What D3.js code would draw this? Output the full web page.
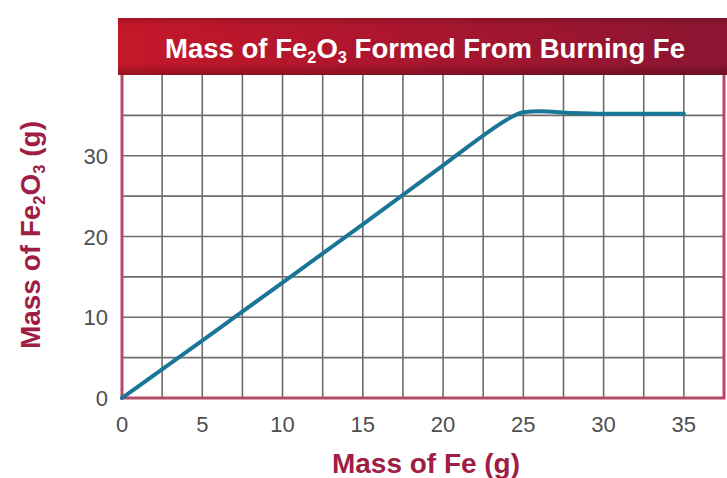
<!DOCTYPE html>
<html>
<head>
<meta charset="utf-8">
<script src="https://cdn.jsdelivr.net/npm/d3@7"></script>
<style>
  body { margin: 0; background: #fff; }
  svg { display: block; }
</style>
</head>
<body>
<div id="app"></div>
<script>
const feMass = [0, 5, 10, 15, 20, 22.5, 24, 25, 26, 28, 30, 35];
const oxideMass = [0, 7.1, 14.3, 21.5, 28.8, 32.5, 34.5, 35.4, 35.5, 35.3, 35.2, 35.2];
const xTicks = [0, 5, 10, 15, 20, 25, 30, 35];
const yTicks = [0, 10, 20, 30];

const width = 727;
const height = 478;
const margin = { top: 75, right: 3, bottom: 80, left: 122 };
const maroon = '#a01d44';
const frameColor = '#b54a66';
const narrow = 'Liberation Sans Narrow, Arial Narrow, sans-serif';

const svg = d3.select('#app').append('svg')
  .attr('width', width)
  .attr('height', height);

const defs = svg.append('defs');
const grad = defs.append('linearGradient').attr('id', 'banner')
  .attr('x1', 0).attr('x2', 1).attr('y1', 0).attr('y2', 0);
grad.append('stop').attr('offset', '0%').attr('stop-color', '#c5172a');
grad.append('stop').attr('offset', '100%').attr('stop-color', '#8c1532');

const shade = defs.append('linearGradient').attr('id', 'bannerShade')
  .attr('x1', 0).attr('x2', 0).attr('y1', 0).attr('y2', 1);
shade.append('stop').attr('offset', '0%').attr('stop-color', '#000').attr('stop-opacity', 0.15);
shade.append('stop').attr('offset', '15%').attr('stop-color', '#000').attr('stop-opacity', 0);
shade.append('stop').attr('offset', '80%').attr('stop-color', '#000').attr('stop-opacity', 0);
shade.append('stop').attr('offset', '100%').attr('stop-color', '#000').attr('stop-opacity', 0.25);

const x = d3.scaleLinear().domain([0, 37.5]).range([margin.left, width - margin.right]);
const y = d3.scaleLinear().domain([0, 40]).range([height - margin.bottom, margin.top]);

// grid
const grid = svg.append('g').attr('stroke', '#6d6d6d').attr('stroke-width', 1.6);
grid.selectAll('line.v').data(d3.range(2.5, 37.5, 2.5)).join('line')
  .attr('x1', d => x(d)).attr('x2', d => x(d))
  .attr('y1', y(40)).attr('y2', y(0));
grid.selectAll('line.h').data(d3.range(5, 40, 5)).join('line')
  .attr('x1', x(0)).attr('x2', x(37.5))
  .attr('y1', d => y(d)).attr('y2', d => y(d));

// frame
svg.append('path')
  .attr('d', `M${x(0)},${y(40)} V${y(0)} H${x(37.5)} V${y(40)}`)
  .attr('fill', 'none')
  .attr('stroke', frameColor)
  .attr('stroke-width', 3);

// banner
svg.append('rect').attr('x', 118).attr('y', 18).attr('width', width - 118).attr('height', 57)
  .attr('fill', 'url(#banner)');
svg.append('rect').attr('x', 118).attr('y', 18).attr('width', width - 118).attr('height', 57)
  .attr('fill', 'url(#bannerShade)');

const title = svg.append('text')
  .attr('x', 425).attr('y', 58)
  .attr('text-anchor', 'middle')
  .attr('fill', '#fff')
  .attr('font-family', narrow)
  .attr('font-weight', 'bold')
  .attr('font-size', 27)
  .attr('textLength', 520)
  .attr('lengthAdjust', 'spacingAndGlyphs');
title.append('tspan').text('Mass of Fe');
title.append('tspan').attr('font-size', 16).attr('dy', 5).text('2');
title.append('tspan').attr('dy', -5).text('O');
title.append('tspan').attr('font-size', 16).attr('dy', 5).text('3');
title.append('tspan').attr('dy', -5).text(' Formed From Burning Fe');

// line
const line = d3.line()
  .x(d => x(d[0]))
  .y(d => y(d[1]))
  .curve(d3.curveMonotoneX);

svg.append('path')
  .datum(d3.zip(feMass, oxideMass))
  .attr('d', line)
  .attr('fill', 'none')
  .attr('stroke', '#1a7697')
  .attr('stroke-width', 4)
  .attr('stroke-linecap', 'round')
  .attr('stroke-linejoin', 'round');

// axes
const tickStyle = sel => sel
  .attr('fill', '#4f4f4f')
  .attr('font-family', narrow)
  .attr('font-size', 22);

svg.append('g').selectAll('text').data(xTicks).join('text')
  .attr('x', d => x(d)).attr('y', 432)
  .attr('text-anchor', 'middle')
  .call(tickStyle)
  .text(d => d);

svg.append('g').selectAll('text').data(yTicks).join('text')
  .attr('x', 108).attr('y', d => y(d) + 8)
  .attr('text-anchor', 'end')
  .call(tickStyle)
  .text(d => d);

svg.append('text')
  .attr('x', 426).attr('y', 473)
  .attr('text-anchor', 'middle')
  .attr('fill', maroon)
  .attr('font-family', narrow)
  .attr('font-weight', 'bold')
  .attr('font-size', 27)
  .attr('textLength', 188)
  .attr('lengthAdjust', 'spacingAndGlyphs')
  .text('Mass of Fe (g)');

const yl = svg.append('text')
  .attr('transform', 'translate(40,235) rotate(-90)')
  .attr('text-anchor', 'middle')
  .attr('fill', maroon)
  .attr('font-family', narrow)
  .attr('font-weight', 'bold')
  .attr('font-size', 27)
  .attr('textLength', 228)
  .attr('lengthAdjust', 'spacingAndGlyphs');
yl.append('tspan').text('Mass of Fe');
yl.append('tspan').attr('font-size', 16).attr('dy', 5).text('2');
yl.append('tspan').attr('dy', -5).text('O');
yl.append('tspan').attr('font-size', 16).attr('dy', 5).text('3');
yl.append('tspan').attr('dy', -5).text(' (g)');
</script>
</body>
</html>
